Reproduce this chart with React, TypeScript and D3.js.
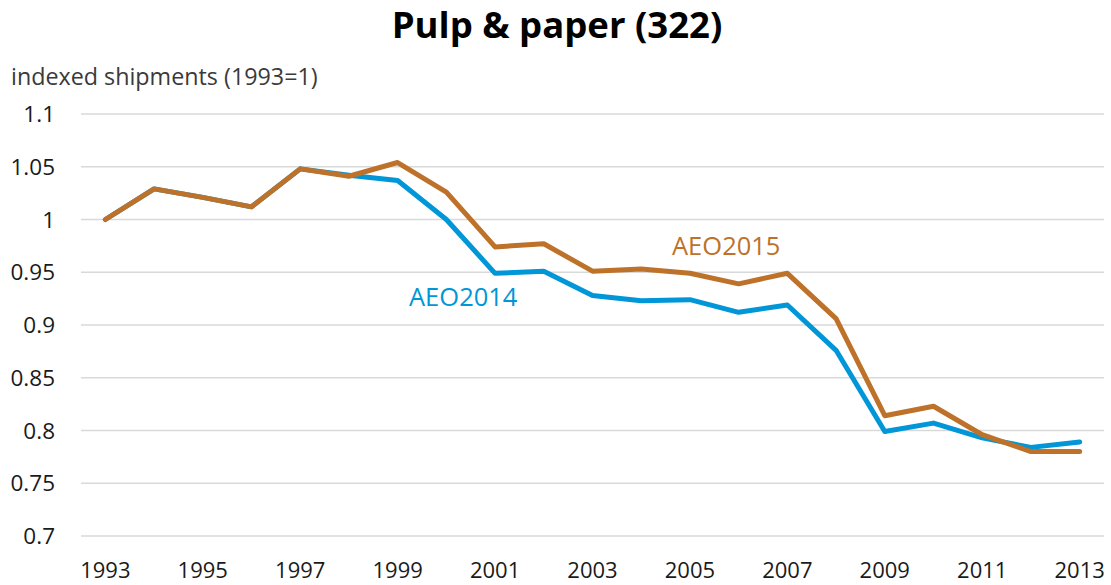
import React from "react";
import * as d3 from "d3";

const years: string[] = [
  "1993", "1994", "1995", "1996", "1997", "1998", "1999", "2000", "2001", "2002", "2003",
  "2004", "2005", "2006", "2007", "2008", "2009", "2010", "2011", "2012", "2013",
];
const aeo2014: number[] = [
  1.0, 1.029, 1.021, 1.012, 1.048, 1.042, 1.037, 1.0, 0.949, 0.951, 0.928,
  0.923, 0.924, 0.912, 0.919, 0.876, 0.799, 0.807, 0.793, 0.784, 0.789,
];
const aeo2015: number[] = [
  1.0, 1.029, 1.021, 1.012, 1.048, 1.041, 1.054, 1.026, 0.974, 0.977, 0.951,
  0.953, 0.949, 0.939, 0.949, 0.906, 0.814, 0.823, 0.796, 0.780, 0.780,
];
const yTicks: number[] = [0.7, 0.75, 0.8, 0.85, 0.9, 0.95, 1.0, 1.05, 1.1];
const xTickLabels: string[] = years.filter((_, i) => i % 2 === 0);

const W = 1111;
const H = 585;
const left = 81;
const right = 1104;
const top = 114;
const bottom = 536;
const FONT = "'Open Sans', 'Noto Sans', sans-serif";
const BLUE = "#0096d7";
const BROWN = "#be7129";

export default function App() {
  const x = d3.scaleBand<string>().domain(years).range([left, right]);
  const cx = (yr: string) => (x(yr) ?? 0) + x.bandwidth() / 2;
  const y = d3.scaleLinear().domain([0.7, 1.1]).range([bottom, top]);
  const line = d3
    .line<number>()
    .x((_, i) => cx(years[i]))
    .y((d) => y(d));

  return (
    <svg
      width={W}
      height={H}
      style={{ position: "absolute", left: 0, top: 0, background: "#fff" }}
    >
      <text
        x={557}
        y={38}
        textAnchor="middle"
        fontFamily={FONT}
        fontWeight="bold"
        fontSize={36.5}
        fill="#000"
      >
        Pulp &amp; paper (322)
      </text>
      <text x={11} y={85} fontFamily={FONT} fontSize={23.3} fill="#3a3a3a">
        indexed shipments (1993=1)
      </text>
      {yTicks.map((t) => (
        <g key={t}>
          <line
            x1={left}
            x2={right}
            y1={y(t)}
            y2={y(t)}
            stroke="#d9d9d9"
            strokeWidth={1.5}
          />
          <text
            x={55}
            y={y(t)}
            dy="0.36em"
            textAnchor="end"
            fontFamily={FONT}
            fontSize={22.5}
            fill="#1a1a1a"
          >
            {d3.format("")(t)}
          </text>
        </g>
      ))}
      {xTickLabels.map((lbl) => (
        <text
          key={lbl}
          x={cx(lbl)}
          y={578}
          textAnchor="middle"
          fontFamily={FONT}
          fontSize={22}
          fill="#1a1a1a"
        >
          {lbl}
        </text>
      ))}
      <path
        d={line(aeo2014) ?? ""}
        fill="none"
        stroke={BLUE}
        strokeWidth={5}
        strokeLinejoin="round"
        strokeLinecap="round"
      />
      <path
        d={line(aeo2015) ?? ""}
        fill="none"
        stroke={BROWN}
        strokeWidth={5}
        strokeLinejoin="round"
        strokeLinecap="round"
      />
      <text x={409} y={306} fontFamily={FONT} fontSize={25.5} fill={BLUE}>
        AEO2014
      </text>
      <text x={672} y={255} fontFamily={FONT} fontSize={25.5} fill={BROWN}>
        AEO2015
      </text>
    </svg>
  );
}
